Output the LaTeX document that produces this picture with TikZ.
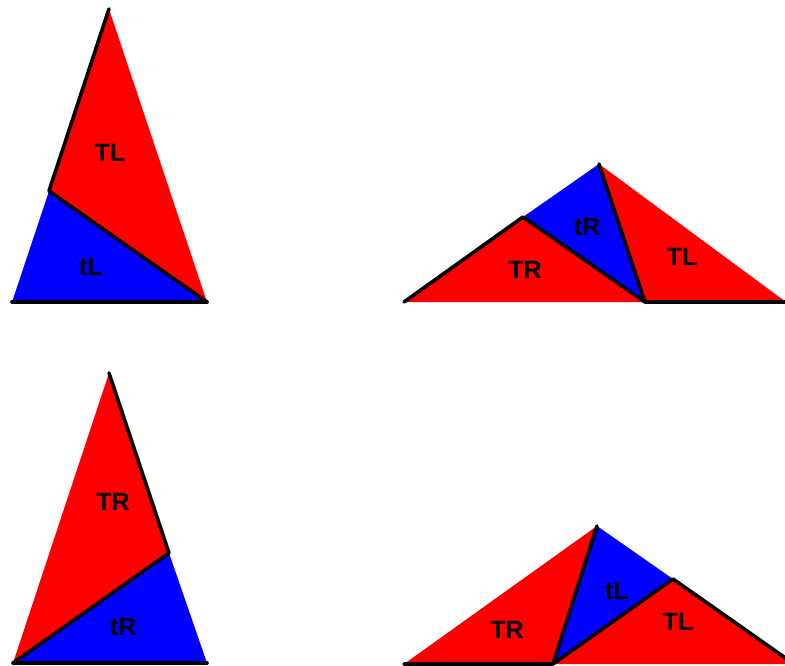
\documentclass[tikz,border=0pt]{standalone}
\usepackage{fontspec}
\setmainfont{Liberation Sans}
\begin{document}
\begin{tikzpicture}[x=1pt,y=-1pt,
  edge/.style={black,line width=3.6pt,line cap=round,line join=round},
  lab/.style={font=\fontsize{25}{25}\selectfont\bfseries,text=black,inner sep=0pt},
  redp/.style={fill=red},
  bluep/.style={fill=blue}]
\useasboundingbox (0,0) rectangle (785,666);
\clip (0,0) rectangle (785,666);
% top-left
\coordinate (a1) at (109,9);
\coordinate (b1) at (49,191);
\coordinate (c1) at (12,302);
\coordinate (d1) at (207,302);
\fill[redp] (a1) -- (b1) -- (d1) -- cycle;
\fill[bluep] (b1) -- (c1) -- (d1) -- cycle;
\draw[edge] (a1) -- (b1) -- (d1);
\draw[edge] (c1) -- (d1);
\node[lab] (l1) at (110,153) {TL};
\node[lab] (l2) at (91,267) {tL};
% top-right
\coordinate (a2) at (404,302);
\coordinate (b2) at (523,217);
\coordinate (c2) at (599,164);
\coordinate (d2) at (645,302);
\coordinate (e2) at (786,302);
\fill[redp] (a2) -- (b2) -- (d2) -- cycle;
\fill[bluep] (b2) -- (c2) -- (d2) -- cycle;
\fill[redp] (c2) -- (d2) -- (e2) -- cycle;
\draw[edge] (a2) -- (b2) -- (d2);
\draw[edge] (c2) -- (d2) -- (e2);
\node[lab] (l3) at (587,227) {tR};
\node[lab] (l4) at (682,257) {TL};
\node[lab] (l5) at (525,270) {TR};
% bottom-left
\coordinate (a3) at (109,373);
\coordinate (b3) at (169,553);
\coordinate (c3) at (13,663);
\coordinate (d3) at (207,663);
\fill[redp] (a3) -- (b3) -- (c3) -- cycle;
\fill[bluep] (b3) -- (c3) -- (d3) -- cycle;
\draw[edge] (a3) -- (b3) -- (c3);
\draw[edge] (c3) -- (d3);
\node[lab] (l6) at (113,502) {TR};
\node[lab] (l7) at (123,627) {tR};
% bottom-right
\coordinate (a4) at (404,664);
\coordinate (b4) at (597,526);
\coordinate (c4) at (553,664);
\coordinate (d4) at (673,579);
\coordinate (e4) at (794,664);
\fill[redp] (a4) -- (b4) -- (c4) -- cycle;
\fill[bluep] (b4) -- (d4) -- (c4) -- cycle;
\fill[redp] (c4) -- (d4) -- (e4) -- cycle;
\draw[edge] (a4) -- (c4) -- (b4);
\draw[edge] (c4) -- (d4) -- (e4);
\node[lab] (l8) at (617,591) {tL};
\node[lab] (l9) at (678,622) {TL};
\node[lab] (l10) at (507,630) {TR};
\end{tikzpicture}
\end{document}
